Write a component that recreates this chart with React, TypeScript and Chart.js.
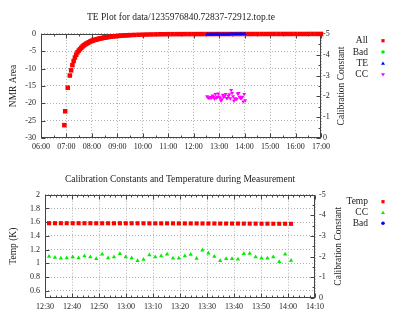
import React, { useEffect, useRef } from 'react';
import { Chart, registerables } from 'chart.js';
Chart.register(...registerables);

const FONT = '"Liberation Serif", "DejaVu Serif", serif';
const TEXT = '#222';
const GRID = '#b0b0b0';
const FRAME = '#444';

// ---------- top chart data ----------
const topTitle = 'TE Plot for data/1235976840.72837-72912.top.te';
const allTimes = [
  '06:55', '06:57', '07:03', '07:08',
  '07:11', '07:14', '07:17', '07:20', '07:23', '07:26', '07:29', '07:32', '07:35', '07:38',
  '07:41', '07:44', '07:47', '07:50', '07:53', '07:56', '07:59', '08:02', '08:05', '08:08',
  '08:11', '08:14', '08:17', '08:20', '08:23', '08:26', '08:29', '08:32', '08:35',
  '08:40', '08:45', '08:50', '08:55', '09:00', '09:05', '09:10', '09:15', '09:20', '09:25', '09:30',
  '09:40', '09:50', '10:00', '10:10', '10:20', '10:30', '10:40', '10:50', '11:00',
  '11:10', '11:20', '11:30', '11:40', '11:50', '12:00', '12:10', '12:20', '12:30', '12:40', '12:50', '13:00',
  '13:10', '13:20', '13:30', '13:40', '13:50', '14:00', '14:10', '14:20', '14:30', '14:40', '14:50', '15:00',
  '15:10', '15:20', '15:30', '15:40', '15:50', '16:00', '16:10', '16:20', '16:30', '16:40', '16:50', '17:00',
];
const allValues = [
  -26.3, -22.3, -15.5, -12.0,
  -10.5, -9.0, -7.8, -6.8, -6.0, -5.3, -4.8, -4.4, -4.0, -3.6,
  -3.3, -3.05, -2.8, -2.6, -2.4, -2.2, -2.05, -1.9, -1.8, -1.68,
  -1.58, -1.48, -1.4, -1.3, -1.22, -1.15, -1.08, -1.02, -0.96,
  -0.88, -0.8, -0.72, -0.66, -0.6, -0.55, -0.5, -0.46, -0.42, -0.38, -0.35,
  -0.3, -0.25, -0.21, -0.18, -0.15, -0.13, -0.11, -0.1, -0.08,
  -0.08, -0.07, -0.07, -0.06, -0.06, -0.06, -0.05, -0.05, -0.05, -0.05, -0.04, -0.04,
  -0.04, -0.04, -0.04, -0.04, -0.03, -0.03, -0.03, -0.03, -0.03, -0.03, -0.03, -0.02,
  -0.02, -0.02, -0.02, -0.02, -0.02, -0.02, -0.02, -0.02, -0.01, -0.01, -0.01, -0.01,
];
const badTimes: string[] = [];
const badValues: number[] = [];

// measurement times (shared by TE, CC and Temp)
const ccTimes = [
  '12:31:30', '12:33:41', '12:35:52', '12:38:03', '12:40:15', '12:42:26', '12:44:37', '12:46:48',
  '12:48:59', '12:51:10', '12:53:22', '12:55:33', '12:57:44', '12:59:55', '13:02:06', '13:04:17',
  '13:06:29', '13:08:40', '13:10:51', '13:13:02', '13:15:13', '13:17:24', '13:19:35', '13:21:47',
  '13:23:58', '13:26:09', '13:28:20', '13:30:31', '13:32:43', '13:34:53', '13:37:05', '13:39:16',
  '13:41:27', '13:43:38', '13:45:49', '13:48:01', '13:50:12', '13:52:23', '13:54:34', '13:56:45',
  '13:58:56', '14:01:08',
];
const teValues = [
  -0.12, -0.11, -0.11, -0.1, -0.1, -0.1, -0.1, -0.09, -0.09, -0.09, -0.09, -0.09, -0.08, -0.08,
  -0.08, -0.08, -0.08, -0.08, -0.07, -0.07, -0.07, -0.07, -0.07, -0.07, -0.07, -0.06, -0.06, -0.06,
  -0.06, -0.06, -0.06, -0.06, -0.06, -0.05, -0.05, -0.05, -0.05, -0.05, -0.05, -0.05, -0.05, -0.05,
];
const ccValues = [
  -2.0, -1.95, -1.92, -1.93, -1.97, -1.93, -2.03, -1.98, -1.89, -2.11, -1.93, -1.97, -2.13, -1.97,
  -1.93, -1.79, -1.85, -2.07, -1.97, -2.02, -2.11, -1.92, -1.92, -2.02, -2.1, -1.9, -2.3, -2.16,
  -2.0, -1.79, -1.89, -1.89, -1.87, -2.13, -2.15, -1.98, -1.92, -1.92, -1.97, -1.75, -2.11, -1.8,
];
const tempValues = [
  1.585, 1.585, 1.585, 1.585, 1.585, 1.585, 1.585, 1.585, 1.584, 1.584, 1.584, 1.584, 1.584, 1.584,
  1.584, 1.584, 1.584, 1.583, 1.583, 1.583, 1.583, 1.583, 1.582, 1.582, 1.582, 1.582, 1.581, 1.581,
  1.581, 1.58, 1.58, 1.58, 1.58, 1.579, 1.579, 1.579, 1.578, 1.578, 1.577, 1.577, 1.577, 1.576,
];
const topXTickLabels = ['06:00', '07:00', '08:00', '09:00', '10:00', '11:00', '12:00', '13:00', '14:00', '15:00', '16:00', '17:00'];
const topYTicks = [-30, -25, -20, -15, -10, -5, 0];
const rightTicks = [-5, -4, -3, -2, -1, 0];

// ---------- bottom chart ----------
const bottomTitle = 'Calibration Constants and Temperature during Measurement';
const bottomXTickLabels = ['12:30', '12:40', '12:50', '13:00', '13:10', '13:20', '13:30', '13:40', '13:50', '14:00', '14:10'];
const bottomYTicks = [0.6, 0.8, 1, 1.2, 1.4, 1.6, 1.8, 2];

function toMin(s: string): number {
  const p = s.split(':').map(Number);
  return p[0] * 60 + p[1] + (p[2] || 0) / 60;
}
function fmtMin(v: number): string {
  const h = Math.floor(v / 60);
  const m = Math.round(v - h * 60);
  return String(h).padStart(2, '0') + ':' + String(m).padStart(2, '0');
}
function pts(times: string[], vals: number[]) {
  return times.map((t, i) => ({ x: toMin(t), y: vals[i] }));
}

function drawMarker(ctx: CanvasRenderingContext2D, style: string, rot: number, color: string, x: number, y: number) {
  ctx.fillStyle = color;
  ctx.beginPath();
  if (style === 'rect') {
    ctx.rect(x - 1.6, y - 1.6, 3.2, 3.2);
  } else if (style === 'circle') {
    ctx.arc(x, y, 1.8, 0, Math.PI * 2);
  } else {
    const s = rot ? -1 : 1;
    ctx.moveTo(x, y - 1.8 * s);
    ctx.lineTo(x + 2, y + 1.4 * s);
    ctx.lineTo(x - 2, y + 1.4 * s);
    ctx.closePath();
  }
  ctx.fill();
}

const gnuplotPlugin = {
  id: 'gnuplot',
  beforeDatasetsDraw(chart: any, _a: any, o: any) {
    const { ctx, chartArea: a, scales } = chart;
    const L = Math.round(a.left) + 0.5;
    const R = Math.round(a.right) - 0.5;
    const T = Math.round(a.top) + 0.5;
    const B = Math.round(a.bottom) - 0.5;
    ctx.save();
    ctx.strokeStyle = FRAME;
    ctx.lineWidth = 1;
    ctx.setLineDash([]);
    ctx.beginPath();
    const seg = (x1: number, y1: number, x2: number, y2: number) => { ctx.moveTo(x1, y1); ctx.lineTo(x2, y2); };
    const each = (scale: any, n: number, fn: (p: number, len: number) => void) => {
      const vals = scale.ticks.map((t: any) => t.value);
      vals.forEach((v: number, i: number) => {
        fn(scale.getPixelForValue(v), 4);
        if (i < vals.length - 1 && n > 1) {
          for (let k = 1; k < n; k++) fn(scale.getPixelForValue(v + ((vals[i + 1] - v) * k) / n), 2);
        }
      });
    };
    each(scales.x, o.xMinor, (p, len) => { const x = Math.round(p) + 0.5; seg(x, B, x, B - len); seg(x, T, x, T + len); });
    each(scales.y, o.yMinor, (p, len) => { const y = Math.round(p) + 0.5; seg(L, y, L + len, y); });
    each(scales.y2, o.y2Minor, (p, len) => { const y = Math.round(p) + 0.5; seg(R, y, R - len, y); });
    ctx.stroke();
    ctx.strokeRect(L, T, R - L, B - T);
    ctx.restore();
  },
  afterDraw(chart: any, _a: any, o: any) {
    const { ctx, chartArea: a } = chart;
    ctx.save();
    ctx.font = `9.5px ${FONT}`;
    ctx.fillStyle = TEXT;
    ctx.textAlign = 'center';
    ctx.textBaseline = 'middle';
    ctx.translate(a.right + o.y2TitleOffset, (a.top + a.bottom) / 2);
    ctx.rotate(-Math.PI / 2);
    ctx.fillText(o.y2Title, 0, 0);
    ctx.restore();
    ctx.save();
    ctx.font = `9.5px ${FONT}`;
    ctx.textAlign = 'right';
    ctx.textBaseline = 'middle';
    chart.data.datasets.forEach((d: any, i: number) => {
      const y = o.legendTop + i * o.legendRow;
      ctx.fillStyle = TEXT;
      ctx.fillText(d.label, o.legendTextRight, y);
      drawMarker(ctx, d.pointStyle, d.pointRotation || 0, d.pointBackgroundColor, o.legendMarkerX, y);
    });
    ctx.restore();
  },
};

const tickFont = { family: FONT, size: 8 };
const titleFont = { family: FONT, size: 9.5, weight: 'normal' as const };

function scatterSet(label: string, data: any[], axis: string, style: string, color: string, radius: number, rot: number, order: number) {
  return {
    label, data, yAxisID: axis, pointStyle: style, pointRotation: rot, pointRadius: radius, pointHoverRadius: radius,
    pointBackgroundColor: color, pointBorderColor: color, pointBorderWidth: 0, showLine: false, clip: false, order,
  };
}

function makeOptions(p: any) {
  return {
    animation: false,
    responsive: false,
    devicePixelRatio: 1,
    events: [],
    layout: { padding: { left: 0, right: p.padRight, top: 0, bottom: 0 } },
    plugins: {
      legend: { display: false },
      tooltip: { enabled: false },
      title: {
        display: true, text: p.title, fullSize: false, font: titleFont, color: TEXT,
        padding: { top: p.titleTop, bottom: p.titleBottom },
      },
      gnuplot: p.gnu,
    },
    scales: {
      x: {
        type: 'linear', min: p.xMin, max: p.xMax,
        afterBuildTicks: (s: any) => { s.ticks = p.xTicks.map((l: string) => ({ value: toMin(l) })); },
        afterFit: (s: any) => { s.height = p.xHeight; },
        ticks: { callback: (v: number) => fmtMin(v), font: tickFont, color: TEXT, padding: 4, maxRotation: 0, autoSkip: false },
        grid: { color: GRID, drawTicks: false, lineWidth: 1 },
        border: { display: false, dash: [1, 2] },
      },
      y: {
        type: 'linear', position: 'left', min: p.yMin, max: p.yMax,
        afterBuildTicks: (s: any) => { s.ticks = p.yTicks.map((v: number) => ({ value: v })); },
        afterFit: (s: any) => { s.width = p.yWidth; },
        ticks: { callback: (v: number) => String(Math.round(v * 10) / 10), font: tickFont, color: TEXT, padding: 5, autoSkip: false },
        grid: { color: GRID, drawTicks: false, lineWidth: 1 },
        border: { display: false, dash: [1, 2] },
        title: { display: true, text: p.yTitle, font: titleFont, color: TEXT, padding: { top: 7.3, bottom: 0 } },
      },
      y2: {
        type: 'linear', position: 'right', min: -5, max: 0, reverse: true,
        afterBuildTicks: (s: any) => { s.ticks = rightTicks.map((v: number) => ({ value: v })); },
        afterFit: (s: any) => { s.width = 30; },
        ticks: { callback: (v: number) => String(v), font: tickFont, color: TEXT, padding: p.y2Pad, autoSkip: false },
        grid: { drawOnChartArea: false, drawTicks: false },
        border: { display: false },
      },
    },
  };
}

function useChart(ref: React.RefObject<HTMLCanvasElement | null>, build: () => any) {
  useEffect(() => {
    if (!ref.current) return;
    const chart = new Chart(ref.current, build());
    return () => chart.destroy();
  }, []);
}

export default function App() {
  const topRef = useRef<HTMLCanvasElement>(null);
  const botRef = useRef<HTMLCanvasElement>(null);

  useChart(topRef, () => ({
    type: 'scatter',
    data: {
      datasets: [
        scatterSet('All', pts(allTimes, allValues), 'y', 'rect', '#ff0000', 3.2, 0, 4),
        scatterSet('Bad', pts(badTimes, badValues), 'y', 'circle', '#00ee00', 2, 0, 3),
        scatterSet('TE', pts(ccTimes, teValues), 'y', 'triangle', '#0000ff', 2, 0, 2),
        scatterSet('CC', pts(ccTimes, ccValues), 'y2', 'triangle', '#ff00ff', 2.3, 180, 1),
      ],
    },
    options: makeOptions({
      title: topTitle, titleTop: 11.6, titleBottom: 10.9, padRight: 51,
      xMin: 360, xMax: 1020, xTicks: topXTickLabels, xHeight: 22,
      yMin: -30, yMax: 0, yTicks: topYTicks, yWidth: 41, yTitle: 'NMR Area', y2Pad: 2,
      gnu: {
        xMinor: 2, yMinor: 1, y2Minor: 2, y2Title: 'Calibration Constant', y2TitleOffset: 20.5,
        legendTextRight: 368, legendMarkerX: 383, legendTop: 40.7, legendRow: 11.3,
      },
    }),
    plugins: [gnuplotPlugin],
  }));

  useChart(botRef, () => ({
    type: 'scatter',
    data: {
      datasets: [
        scatterSet('Temp', pts(ccTimes, tempValues), 'y', 'rect', '#ff0000', 2.9, 0, 3),
        scatterSet('CC', pts(ccTimes, ccValues), 'y2', 'triangle', '#00ee00', 2.5, 0, 2),
        scatterSet('Bad', pts(badTimes, badValues), 'y', 'circle', '#0000ff', 2, 0, 1),
      ],
    },
    options: makeOptions({
      title: bottomTitle, titleTop: 13.3, titleBottom: 10, padRight: 57,
      xMin: 750, xMax: 850, xTicks: bottomXTickLabels, xHeight: 23.3,
      yMin: 0.5, yMax: 2, yTicks: bottomYTicks, yWidth: 45, yTitle: 'Temp (K)', y2Pad: 4,
      gnu: {
        xMinor: 5, yMinor: 1, y2Minor: 2, y2Title: 'Calibration Constant', y2TitleOffset: 23,
        legendTextRight: 368, legendMarkerX: 383, legendTop: 41.7, legendRow: 10.8,
      },
    }),
    plugins: [gnuplotPlugin],
  }));

  return (
    <div style={{ position: 'absolute', left: 0, top: 0, width: 402, height: 321, background: '#fff' }}>
      <canvas ref={topRef} width={402} height={160} style={{ display: 'block', width: 402, height: 160 }} />
      <canvas ref={botRef} width={402} height={161} style={{ display: 'block', width: 402, height: 161 }} />
    </div>
  );
}
